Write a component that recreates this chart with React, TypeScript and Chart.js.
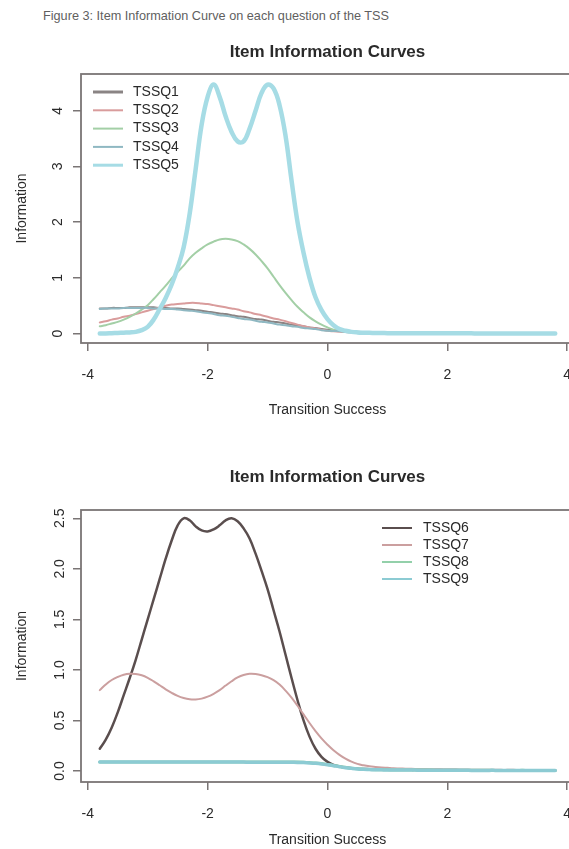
import React, { useEffect, useRef } from "react";
import { Chart, registerables } from "chart.js";

Chart.register(...registerables);

const FONT = '"Liberation Sans", Arial, Helvetica, sans-serif';
const TEXT = "#2a2a2a";
const AXIS = "#7a7575";

// ability grid (Transition Success)
const theta = [
  -3.8, -3.7, -3.6, -3.5, -3.4, -3.3, -3.2, -3.1, -3.0, -2.9, -2.8, -2.7, -2.6, -2.5, -2.4,
  -2.3, -2.2, -2.1, -2.0, -1.9, -1.8, -1.7, -1.6, -1.5, -1.4, -1.3, -1.2, -1.1, -1.0,
  -0.9, -0.8, -0.7, -0.6, -0.5, -0.4, -0.3, -0.2, -0.1, 0.0,
  0.1, 0.2, 0.3, 0.4, 0.5, 0.6, 0.7, 0.8, 0.9, 1.0,
  1.1, 1.2, 1.3, 1.4, 1.5, 1.6, 1.7, 1.8, 1.9, 2.0, 2.1, 2.2, 2.3, 2.4, 2.5, 2.6, 2.7, 2.8,
  2.9, 3.0, 3.1, 3.2, 3.3, 3.4, 3.5, 3.6, 3.7, 3.8,
];

const xTickValues = [-4, -2, 0, 2, 4];
const xTickLabels = ["-4", "-2", "0", "2", "4"];
const topYTicks = [0, 1, 2, 3, 4];
const topYTickLabels = ["0", "1", "2", "3", "4"];
const bottomYTicks = [0, 0.5, 1, 1.5, 2, 2.5];
const bottomYTickLabels = ["0.0", "0.5", "1.0", "1.5", "2.0", "2.5"];

const captionText = "Figure 3: Item Information Curve on each question of the TSS";
const chartTitle = "Item Information Curves";
const xAxisTitle = "Transition Success";
const yAxisTitle = "Information";

const topLabels = ["TSSQ1", "TSSQ2", "TSSQ3", "TSSQ4", "TSSQ5"];
const bottomLabels = ["TSSQ6", "TSSQ7", "TSSQ8", "TSSQ9"];

const tssq1 = [
  0.45, 0.45, 0.46, 0.46, 0.46, 0.47, 0.47, 0.47, 0.47, 0.47, 0.46, 0.46, 0.45, 0.45, 0.44,
  0.43, 0.42, 0.41, 0.39, 0.38, 0.36, 0.35, 0.33, 0.31, 0.3, 0.28, 0.26, 0.25, 0.23,
  0.21, 0.2, 0.18, 0.16, 0.15, 0.13, 0.11, 0.1, 0.08, 0.07,
  0.06, 0.05, 0.04, 0.035, 0.03, 0.025, 0.02, 0.015, 0.012, 0.01,
  0.009, 0.008, 0.007, 0.006, 0.006, 0.005, 0.005, 0.004, 0.004, 0.004, 0.003, 0.003, 0.003, 0.003,
  0.002, 0.002, 0.002, 0.002, 0.002, 0.002, 0.001, 0.001, 0.001, 0.001, 0.001, 0.001, 0.001, 0.001,
];
const tssq2 = [
  0.2, 0.22, 0.25, 0.27, 0.3, 0.32, 0.35, 0.38, 0.41, 0.44, 0.47, 0.5, 0.52, 0.53, 0.54,
  0.55, 0.55, 0.54, 0.53, 0.51, 0.49, 0.47, 0.45, 0.43, 0.4, 0.38, 0.35, 0.33, 0.3,
  0.27, 0.25, 0.22, 0.19, 0.16, 0.13, 0.11, 0.09, 0.07, 0.05,
  0.04, 0.032, 0.026, 0.02, 0.016, 0.013, 0.011, 0.01, 0.009, 0.008,
  0.007, 0.007, 0.006, 0.006, 0.005, 0.005, 0.004, 0.004, 0.004, 0.003, 0.003, 0.003, 0.003, 0.003,
  0.002, 0.002, 0.002, 0.002, 0.002, 0.002, 0.001, 0.001, 0.001, 0.001, 0.001, 0.001, 0.001, 0.001,
];
const tssq3 = [
  0.13, 0.15, 0.18, 0.21, 0.25, 0.3, 0.36, 0.43, 0.51, 0.62, 0.74, 0.86, 0.99, 1.11, 1.22,
  1.35, 1.45, 1.53, 1.6, 1.65, 1.69, 1.7, 1.69, 1.66, 1.6, 1.52, 1.42, 1.3, 1.17,
  1.02, 0.87, 0.73, 0.6, 0.48, 0.38, 0.29, 0.22, 0.16, 0.11,
  0.07, 0.05, 0.035, 0.025, 0.018, 0.013, 0.01, 0.008, 0.006, 0.005,
  0.005, 0.004, 0.004, 0.004, 0.003, 0.003, 0.003, 0.003, 0.002, 0.002, 0.002, 0.002, 0.002, 0.002,
  0.002, 0.001, 0.001, 0.001, 0.001, 0.001, 0.001, 0.001, 0.001, 0.001, 0.001, 0.001, 0.001, 0.001,
];
const tssq4 = [
  0.44, 0.45, 0.45, 0.45, 0.46, 0.46, 0.46, 0.46, 0.46, 0.45, 0.45, 0.44, 0.44, 0.43, 0.42,
  0.41, 0.4, 0.38, 0.37, 0.35, 0.33, 0.32, 0.3, 0.28, 0.26, 0.25, 0.23, 0.21, 0.2,
  0.18, 0.16, 0.15, 0.13, 0.12, 0.1, 0.09, 0.08, 0.06, 0.05,
  0.045, 0.04, 0.03, 0.025, 0.02, 0.017, 0.014, 0.012, 0.01, 0.008,
  0.008, 0.007, 0.007, 0.006, 0.006, 0.005, 0.005, 0.004, 0.004, 0.004, 0.003, 0.003, 0.003, 0.003,
  0.002, 0.002, 0.002, 0.002, 0.002, 0.002, 0.001, 0.001, 0.001, 0.001, 0.001, 0.001, 0.001, 0.001,
];
const tssq5 = [
  0.0, 0.0, 0.005, 0.01, 0.015, 0.02, 0.03, 0.06, 0.12, 0.25, 0.44, 0.64, 0.88, 1.18, 1.55,
  2.15, 2.95, 3.75, 4.25, 4.47, 4.25, 3.9, 3.62, 3.45, 3.45, 3.68, 4.0, 4.32, 4.47,
  4.4, 4.1, 3.55, 2.75, 2.0, 1.45, 1.0, 0.65, 0.42, 0.26,
  0.15, 0.08, 0.05, 0.03, 0.02, 0.015, 0.012, 0.01, 0.008, 0.007,
  0.006, 0.006, 0.005, 0.005, 0.005, 0.004, 0.004, 0.004, 0.004, 0.003, 0.003, 0.003, 0.003, 0.003,
  0.002, 0.002, 0.002, 0.002, 0.002, 0.002, 0.002, 0.002, 0.001, 0.001, 0.001, 0.001, 0.001, 0.001,
];

const tssq6 = [
  0.22, 0.31, 0.43, 0.58, 0.75, 0.92, 1.1, 1.3, 1.5, 1.7, 1.9, 2.1, 2.28, 2.43, 2.5,
  2.48, 2.42, 2.38, 2.37, 2.39, 2.43, 2.48, 2.5, 2.47, 2.4, 2.3, 2.15, 1.98, 1.8,
  1.59, 1.38, 1.15, 0.92, 0.7, 0.5, 0.34, 0.22, 0.14, 0.09,
  0.06, 0.045, 0.035, 0.028, 0.023, 0.02, 0.018, 0.016, 0.015, 0.014,
  0.013, 0.012, 0.012, 0.011, 0.011, 0.01, 0.01, 0.01, 0.009, 0.009, 0.009, 0.008, 0.008, 0.008,
  0.008, 0.007, 0.007, 0.007, 0.007, 0.006, 0.006, 0.006, 0.006, 0.006, 0.005, 0.005, 0.005, 0.005,
];
const tssq7 = [
  0.8, 0.855, 0.9, 0.93, 0.952, 0.962, 0.96, 0.947, 0.922, 0.887, 0.848, 0.808, 0.773, 0.743, 0.722,
  0.71, 0.708, 0.716, 0.735, 0.764, 0.8, 0.845, 0.888, 0.925, 0.95, 0.962, 0.96, 0.948, 0.928,
  0.898, 0.855, 0.795, 0.725, 0.645, 0.56, 0.475, 0.395, 0.322, 0.26,
  0.205, 0.16, 0.122, 0.092, 0.07, 0.056, 0.046, 0.04, 0.035, 0.031,
  0.027, 0.025, 0.023, 0.021, 0.02, 0.019, 0.018, 0.017, 0.016, 0.015, 0.015, 0.014, 0.014, 0.013,
  0.013, 0.012, 0.012, 0.012, 0.011, 0.011, 0.011, 0.01, 0.01, 0.01, 0.01, 0.009, 0.009, 0.009,
];
const tssq8 = [
  0.09, 0.09, 0.09, 0.09, 0.09, 0.09, 0.09, 0.09, 0.09, 0.09, 0.09, 0.09, 0.09, 0.09, 0.09,
  0.09, 0.09, 0.09, 0.09, 0.09, 0.09, 0.09, 0.09, 0.09, 0.09, 0.09, 0.09, 0.09, 0.09,
  0.09, 0.09, 0.09, 0.089, 0.088, 0.086, 0.083, 0.079, 0.073, 0.065,
  0.055, 0.045, 0.036, 0.028, 0.022, 0.018, 0.015, 0.013, 0.012, 0.011,
  0.01, 0.01, 0.01, 0.009, 0.009, 0.009, 0.009, 0.008, 0.008, 0.008, 0.008, 0.008, 0.007, 0.007,
  0.007, 0.007, 0.007, 0.006, 0.006, 0.006, 0.006, 0.006, 0.006, 0.005, 0.005, 0.005, 0.005, 0.005,
];
const tssq9 = [
  0.088, 0.088, 0.088, 0.088, 0.088, 0.088, 0.088, 0.088, 0.088, 0.088, 0.088, 0.088, 0.088, 0.088, 0.088,
  0.088, 0.088, 0.088, 0.088, 0.088, 0.088, 0.088, 0.088, 0.088, 0.088, 0.087, 0.087, 0.087, 0.087,
  0.087, 0.087, 0.087, 0.086, 0.085, 0.083, 0.08, 0.076, 0.07, 0.062,
  0.052, 0.042, 0.033, 0.026, 0.02, 0.016, 0.014, 0.012, 0.011, 0.01,
  0.01, 0.009, 0.009, 0.009, 0.008, 0.008, 0.008, 0.008, 0.007, 0.007, 0.007, 0.007, 0.007, 0.006,
  0.006, 0.006, 0.006, 0.006, 0.005, 0.005, 0.005, 0.005, 0.005, 0.005, 0.004, 0.004, 0.004, 0.004,
];

type Series = { label: string; values: number[]; color: string; width: number; legendWidth: number };

type Spec = {
  canvasTop: number;
  canvasHeight: number;
  series: Series[];
  yMin: number;
  yMax: number;
  yTicks: number[];
  yTickLabels: string[];
  yTickX: number;
  yTitleX: number;
  titleY: number;
  xTitleY: number;
  padTop: number;
  xAxisHeight: number;
  legendLineX0: number;
  legendLineX1: number;
  legendTextX: number;
  legendY0: number;
  legendDy: number;
};

const CANVAS_W = 600;
const Y_AXIS_W = 81;
const PAD_RIGHT = 26;
const X_MIN = -4.113;
const X_MAX = 4.113;

const topSpec: Spec = {
  canvasTop: 0,
  canvasHeight: 430,
  series: [
    { label: topLabels[0], values: tssq1, color: "#8a8484", width: 2, legendWidth: 3 },
    { label: topLabels[1], values: tssq2, color: "#d99c9c", width: 2, legendWidth: 2 },
    { label: topLabels[2], values: tssq3, color: "#a3cfa6", width: 2, legendWidth: 2 },
    { label: topLabels[3], values: tssq4, color: "#8fb8c2", width: 2, legendWidth: 2 },
    { label: topLabels[4], values: tssq5, color: "#a6dce5", width: 4.5, legendWidth: 3 },
  ],
  yMin: -0.17,
  yMax: 4.66,
  yTicks: topYTicks,
  yTickLabels: topYTickLabels,
  yTickX: 58,
  yTitleX: 22,
  titleY: 52,
  xTitleY: 410,
  padTop: 74,
  xAxisHeight: 87,
  legendLineX0: 93,
  legendLineX1: 123,
  legendTextX: 133,
  legendY0: 92,
  legendDy: 18.3,
};

const bottomSpec: Spec = {
  canvasTop: 430,
  canvasHeight: 419,
  series: [
    { label: bottomLabels[0], values: tssq6, color: "#5a4e4e", width: 2.5, legendWidth: 2 },
    { label: bottomLabels[1], values: tssq7, color: "#cb9f9f", width: 2, legendWidth: 2 },
    { label: bottomLabels[2], values: tssq8, color: "#93d0aa", width: 3, legendWidth: 2 },
    { label: bottomLabels[3], values: tssq9, color: "#8ccbd3", width: 3.5, legendWidth: 2 },
  ],
  yMin: -0.109,
  yMax: 2.582,
  yTicks: bottomYTicks,
  yTickLabels: bottomYTickLabels,
  yTickX: 60,
  yTitleX: 22,
  titleY: 47,
  xTitleY: 410,
  padTop: 80,
  xAxisHeight: 67,
  legendLineX0: 382,
  legendLineX1: 412,
  legendTextX: 423,
  legendY0: 98,
  legendDy: 17,
};

function makeDecor(spec: Spec) {
  return {
    id: "rDecor",
    afterDraw(chart: any) {
      const { ctx, chartArea: a, scales } = chart;
      const cx = scales.x.getPixelForValue(0);
      ctx.save();
      // plot box
      ctx.strokeStyle = AXIS;
      ctx.lineWidth = 1.8;
      ctx.strokeRect(a.left, a.top, a.right - a.left, a.bottom - a.top);

      ctx.fillStyle = TEXT;
      ctx.textAlign = "center";
      ctx.textBaseline = "middle";
      ctx.font = `14px ${FONT}`;
      // rotated y tick labels
      spec.yTicks.forEach((v, i) => {
        const y = scales.y.getPixelForValue(v);
        ctx.save();
        ctx.translate(spec.yTickX, y);
        ctx.rotate(-Math.PI / 2);
        ctx.fillText(spec.yTickLabels[i], 0, 0);
        ctx.restore();
      });
      // y axis title
      ctx.save();
      ctx.translate(spec.yTitleX, (a.top + a.bottom) / 2);
      ctx.rotate(-Math.PI / 2);
      ctx.fillText(yAxisTitle, 0, 0);
      ctx.restore();
      // x axis title
      ctx.fillText(xAxisTitle, cx, spec.xTitleY);
      // main title
      ctx.font = `bold 17px ${FONT}`;
      ctx.fillText(chartTitle, cx, spec.titleY);

      // legend
      ctx.font = `14px ${FONT}`;
      ctx.textAlign = "left";
      spec.series.forEach((s, i) => {
        const y = spec.legendY0 + i * spec.legendDy;
        ctx.strokeStyle = s.color;
        ctx.lineWidth = s.legendWidth;
        ctx.beginPath();
        ctx.moveTo(spec.legendLineX0, y);
        ctx.lineTo(spec.legendLineX1, y);
        ctx.stroke();
        ctx.fillStyle = TEXT;
        ctx.fillText(s.label, spec.legendTextX, y);
      });
      ctx.restore();
    },
  };
}

function RChart({ spec }: { spec: Spec }) {
  const ref = useRef<HTMLCanvasElement | null>(null);
  useEffect(() => {
    if (!ref.current) return;
    const n = spec.series.length;
    const chart = new Chart(ref.current, {
      type: "line",
      data: {
        datasets: spec.series.map((s, i) => ({
          label: s.label,
          data: theta.map((x, j) => ({ x, y: s.values[j] })),
          borderColor: s.color,
          backgroundColor: s.color,
          borderWidth: s.width,
          pointRadius: 0,
          fill: false,
          tension: 0.4,
          borderJoinStyle: "round" as const,
          borderCapStyle: "round" as const,
          order: n - i,
        })),
      },
      options: {
        animation: false,
        responsive: false,
        maintainAspectRatio: false,
        layout: { padding: { left: 0, right: PAD_RIGHT, top: spec.padTop, bottom: 0 } },
        plugins: {
          legend: { display: false },
          title: { display: false },
          tooltip: { enabled: false },
        },
        scales: {
          x: {
            type: "linear",
            min: X_MIN,
            max: X_MAX,
            afterBuildTicks: (s: any) => {
              s.ticks = xTickValues.map((v) => ({ value: v }));
            },
            afterFit: (s: any) => {
              s.height = spec.xAxisHeight;
            },
            grid: {
              drawOnChartArea: false,
              drawTicks: true,
              tickLength: 8,
              color: AXIS,
              lineWidth: 1.5,
            },
            border: { display: false },
            ticks: {
              padding: 16,
              color: TEXT,
              font: { family: FONT, size: 14 },
              maxRotation: 0,
              autoSkip: false,
              callback: (v: any) => {
                const k = xTickValues.indexOf(Number(v));
                return k >= 0 ? xTickLabels[k] : "";
              },
            },
          },
          y: {
            type: "linear",
            min: spec.yMin,
            max: spec.yMax,
            afterBuildTicks: (s: any) => {
              s.ticks = spec.yTicks.map((v) => ({ value: v }));
            },
            afterFit: (s: any) => {
              s.width = Y_AXIS_W;
            },
            grid: {
              drawOnChartArea: false,
              drawTicks: true,
              tickLength: 8,
              color: AXIS,
              lineWidth: 1.5,
            },
            border: { display: false },
            ticks: { display: false },
          },
        },
      },
      plugins: [makeDecor(spec)],
    });
    return () => chart.destroy();
  }, [spec]);
  return (
    <canvas
      ref={ref}
      width={CANVAS_W}
      height={spec.canvasHeight}
      style={{
        position: "absolute",
        left: 0,
        top: spec.canvasTop,
        width: CANVAS_W,
        height: spec.canvasHeight,
      }}
    />
  );
}

export default function App() {
  return (
    <div
      style={{
        position: "absolute",
        left: 0,
        top: 0,
        width: 569,
        height: 849,
        overflow: "hidden",
        background: "#ffffff",
      }}
    >
      <div
        style={{
          position: "absolute",
          left: 43,
          top: 8,
          fontFamily: FONT,
          fontSize: 12.7,
          color: "#5f5f5f",
          whiteSpace: "nowrap",
          lineHeight: "16px",
        }}
      >
        {captionText}
      </div>
      <RChart spec={topSpec} />
      <RChart spec={bottomSpec} />
    </div>
  );
}
